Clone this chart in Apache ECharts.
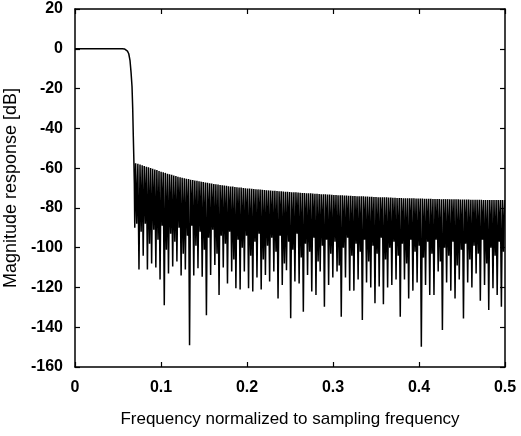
<!DOCTYPE html>
<html>
<head>
<meta charset="utf-8">
<script src="https://cdn.jsdelivr.net/npm/echarts@6/dist/echarts.min.js"></script>
<style>
html,body{margin:0;padding:0;background:#fff;}
#c{width:521px;height:436px;}
</style>
</head>
<body>
<div id="c"></div>
<script>
// Axis ticks
var xTicks = [0, 0.1, 0.2, 0.3, 0.4, 0.5];
var yTicks = [-160, -140, -120, -100, -80, -60, -40, -20, 0, 20];

// Passband and transition band: [frequency, dB]
var passband = [
  [0, 0], [0.02, 0], [0.04, 0], [0.055, 0], [0.0575, -0.1], [0.0595, -0.4],
  [0.061, -1.2], [0.0625, -2.5], [0.064, -6], [0.0652, -12], [0.0663, -19],
  [0.0671, -30], [0.0678, -44], [0.0684, -55], [0.069, -68], [0.0695, -90],
  [0.0705, -57.5], [0.0718, -88], [0.0731, -57.8]
];

// Stopband ripple: deep null, peak, shallow null, peak for each lobe
var stopband = [
  [0.0744,-111],[0.0756,-58.2],[0.0769,-92],[0.0781,-58.6],
  [0.0793,-104],[0.0805,-59.0],[0.0818,-88],[0.0830,-59.3],
  [0.0842,-111],[0.0854,-59.6],[0.0867,-98],[0.0879,-60.0],
  [0.0891,-108],[0.0903,-60.3],[0.0916,-91],[0.0928,-60.7],
  [0.0940,-110],[0.0952,-61.0],[0.0965,-96],[0.0977,-61.4],
  [0.0989,-116],[0.1001,-61.8],[0.1014,-89],[0.1026,-62.1],
  [0.1038,-129],[0.1050,-62.4],[0.1063,-101],[0.1075,-62.8],
  [0.1087,-113],[0.1099,-63.1],[0.1112,-93],[0.1124,-63.4],
  [0.1136,-109.5],[0.1148,-63.7],[0.1161,-97],[0.1173,-64.0],
  [0.1185,-107],[0.1197,-64.3],[0.1210,-90],[0.1222,-64.6],
  [0.1234,-114],[0.1246,-64.8],[0.1259,-103],[0.1271,-65.1],
  [0.1283,-111],[0.1295,-65.3],[0.1308,-94],[0.1320,-65.5],
  [0.1332,-149],[0.1344,-65.8],[0.1357,-89],[0.1369,-66.0],
  [0.1381,-114],[0.1393,-66.2],[0.1406,-99],[0.1418,-66.4],
  [0.1430,-110.4],[0.1442,-66.6],[0.1455,-92],[0.1467,-66.8],
  [0.1479,-114.6],[0.1491,-67.0],[0.1504,-101],[0.1516,-67.2],
  [0.1528,-134],[0.1540,-67.4],[0.1553,-95],[0.1565,-67.6],
  [0.1577,-113.7],[0.1589,-67.8],[0.1602,-91],[0.1614,-68.0],
  [0.1626,-108.7],[0.1638,-68.1],[0.1651,-103],[0.1663,-68.3],
  [0.1675,-123.8],[0.1687,-68.5],[0.1700,-94],[0.1712,-68.6],
  [0.1724,-110],[0.1736,-68.8],[0.1749,-98],[0.1761,-68.9],
  [0.1773,-118],[0.1785,-69.1],[0.1798,-92],[0.1810,-69.2],
  [0.1822,-112],[0.1834,-69.3],[0.1847,-106],[0.1859,-69.5],
  [0.1871,-120.4],[0.1883,-69.6],[0.1896,-96],[0.1908,-69.7],
  [0.1920,-121],[0.1932,-69.8],[0.1945,-100],[0.1957,-70.0],
  [0.1969,-112],[0.1981,-70.1],[0.1994,-94],[0.2006,-70.2],
  [0.2018,-120.4],[0.2030,-70.3],[0.2043,-104],[0.2055,-70.4],
  [0.2067,-122],[0.2079,-70.5],[0.2092,-97],[0.2104,-70.6],
  [0.2116,-115],[0.2128,-70.7],[0.2141,-93],[0.2153,-70.8],
  [0.2165,-121],[0.2177,-70.9],[0.2190,-106],[0.2202,-71.0],
  [0.2214,-113.7],[0.2226,-71.1],[0.2239,-99],[0.2251,-71.2],
  [0.2263,-117],[0.2275,-71.3],[0.2288,-95],[0.2300,-71.4],
  [0.2312,-112],[0.2324,-71.4],[0.2337,-102],[0.2349,-71.5],
  [0.2361,-125.5],[0.2373,-71.6],[0.2386,-94],[0.2398,-71.7],
  [0.2410,-118.8],[0.2422,-71.8],[0.2435,-108],[0.2447,-71.9],
  [0.2459,-111.4],[0.2471,-71.9],[0.2484,-97],[0.2496,-72.0],
  [0.2508,-135.5],[0.2520,-72.1],[0.2533,-101],[0.2545,-72.2],
  [0.2557,-117],[0.2569,-72.2],[0.2582,-93],[0.2594,-72.3],
  [0.2606,-118],[0.2618,-72.4],[0.2631,-105],[0.2643,-72.5],
  [0.2655,-132.2],[0.2667,-72.5],[0.2680,-98],[0.2692,-72.6],
  [0.2704,-113.8],[0.2716,-72.7],[0.2729,-102],[0.2741,-72.7],
  [0.2753,-122],[0.2765,-72.8],[0.2778,-95],[0.2790,-72.9],
  [0.2802,-123.8],[0.2814,-72.9],[0.2827,-107],[0.2839,-73.0],
  [0.2851,-112],[0.2863,-73.1],[0.2876,-99],[0.2888,-73.1],
  [0.2900,-129.7],[0.2912,-73.2],[0.2925,-96],[0.2937,-73.3],
  [0.2949,-118.8],[0.2961,-73.3],[0.2974,-103],[0.2986,-73.4],
  [0.2998,-115],[0.3010,-73.5],[0.3023,-97],[0.3035,-73.5],
  [0.3047,-112],[0.3059,-73.6],[0.3072,-109],[0.3084,-73.6],
  [0.3096,-134.7],[0.3108,-73.7],[0.3121,-100],[0.3133,-73.8],
  [0.3145,-115],[0.3157,-73.8],[0.3170,-95],[0.3182,-73.9],
  [0.3194,-121.6],[0.3206,-73.9],[0.3219,-104],[0.3231,-74.0],
  [0.3243,-121.6],[0.3255,-74.0],[0.3268,-98],[0.3280,-74.1],
  [0.3292,-116],[0.3304,-74.1],[0.3317,-102],[0.3329,-74.2],
  [0.3341,-136.4],[0.3353,-74.2],[0.3366,-96],[0.3378,-74.3],
  [0.3390,-117.5],[0.3402,-74.3],[0.3415,-107],[0.3427,-74.4],
  [0.3439,-120],[0.3451,-74.4],[0.3464,-99],[0.3476,-74.5],
  [0.3488,-128],[0.3500,-74.5],[0.3513,-103],[0.3525,-74.6],
  [0.3537,-119.5],[0.3549,-74.6],[0.3562,-95],[0.3574,-74.6],
  [0.3586,-128.5],[0.3598,-74.7],[0.3611,-106],[0.3623,-74.7],
  [0.3635,-120],[0.3647,-74.8],[0.3660,-100],[0.3672,-74.8],
  [0.3684,-118.8],[0.3696,-74.9],[0.3709,-97],[0.3721,-74.9],
  [0.3733,-116],[0.3745,-75.0],[0.3758,-104],[0.3770,-75.0],
  [0.3782,-134.7],[0.3794,-75.0],[0.3807,-98],[0.3819,-75.1],
  [0.3831,-116],[0.3843,-75.1],[0.3856,-108],[0.3868,-75.1],
  [0.3880,-125.5],[0.3892,-75.2],[0.3905,-96],[0.3917,-75.2],
  [0.3929,-121.6],[0.3941,-75.2],[0.3954,-102],[0.3966,-75.3],
  [0.3978,-117.5],[0.3990,-75.3],[0.4003,-99],[0.4015,-75.3],
  [0.4027,-149.8],[0.4039,-75.3],[0.4052,-105],[0.4064,-75.4],
  [0.4076,-118.8],[0.4088,-75.4],[0.4101,-97],[0.4113,-75.4],
  [0.4125,-123.8],[0.4137,-75.4],[0.4150,-103],[0.4162,-75.5],
  [0.4174,-123.8],[0.4186,-75.5],[0.4199,-96],[0.4211,-75.5],
  [0.4223,-112],[0.4235,-75.5],[0.4248,-107],[0.4260,-75.6],
  [0.4272,-141.4],[0.4284,-75.6],[0.4297,-100],[0.4309,-75.6],
  [0.4321,-117.5],[0.4333,-75.6],[0.4346,-104],[0.4358,-75.7],
  [0.4370,-121.6],[0.4382,-75.7],[0.4395,-97],[0.4407,-75.7],
  [0.4419,-125.5],[0.4431,-75.7],[0.4444,-109],[0.4456,-75.7],
  [0.4468,-116],[0.4480,-75.8],[0.4493,-101],[0.4505,-75.8],
  [0.4517,-135.6],[0.4529,-75.8],[0.4542,-98],[0.4554,-75.8],
  [0.4566,-117.5],[0.4578,-75.8],[0.4591,-106],[0.4603,-75.9],
  [0.4615,-120],[0.4627,-75.9],[0.4640,-99],[0.4652,-75.9],
  [0.4664,-113],[0.4676,-75.9],[0.4689,-103],[0.4701,-75.9],
  [0.4713,-126.7],[0.4725,-75.9],[0.4738,-96],[0.4750,-76.0],
  [0.4762,-118.8],[0.4774,-76.0],[0.4787,-108],[0.4799,-76.0],
  [0.4811,-131.3],[0.4823,-76.0],[0.4836,-100],[0.4848,-76.0],
  [0.4860,-120.4],[0.4872,-76.0],[0.4885,-104],[0.4897,-76.0],
  [0.4909,-123.8],[0.4921,-76.0],[0.4934,-97],[0.4946,-76.0],
  [0.4958,-129.7],[0.4970,-76.0],[0.4983,-102],[0.4995,-76.0]
];

var xTitle = 'Frequency normalized to sampling frequency';
var yTitle = 'Magnitude response [dB]';

var chart = echarts.init(document.getElementById('c'), null, {renderer: 'canvas'});
var fontFam = '"Liberation Sans", Arial, sans-serif';
var lineStyleAx = {color: '#000', width: 1.5};
var tickStyle = {show: true, inside: true, length: 5, lineStyle: {color: '#000', width: 1.2}};

function xAx(pos, showLabels) {
  return {
    type: 'value', position: pos, min: xTicks[0], max: xTicks[xTicks.length - 1], interval: 0.1,
    axisLine: {show: true, onZero: false, lineStyle: lineStyleAx},
    axisTick: tickStyle, splitLine: {show: false},
    axisLabel: {show: showLabels, color: '#000', fontFamily: fontFam, fontWeight: 'bold', fontSize: 16, margin: 13,
      formatter: function (v) { return v === 0 ? '0' : v.toFixed(1); }},
    name: showLabels ? xTitle : '', nameLocation: 'middle', nameGap: 44,
    nameTextStyle: {color: '#000', fontFamily: fontFam, fontSize: 17}
  };
}
function yAx(pos, showLabels) {
  return {
    type: 'value', position: pos, min: yTicks[0], max: yTicks[yTicks.length - 1], interval: 20,
    axisLine: {show: true, onZero: false, lineStyle: lineStyleAx},
    axisTick: tickStyle, splitLine: {show: false},
    axisLabel: {show: showLabels, color: '#000', fontFamily: fontFam, fontWeight: 'bold', fontSize: 16, margin: 12},
    name: showLabels ? yTitle : '', nameLocation: 'middle', nameGap: 54, nameRotate: 90,
    nameTextStyle: {color: '#000', fontFamily: fontFam, fontSize: 18}
  };
}

chart.setOption({
  animation: false,
  backgroundColor: '#fff',
  grid: {left: 75, right: 16, top: 9, bottom: 69, containLabel: false, outerBoundsMode: 'none'},
  xAxis: [xAx('bottom', true), xAx('top', false)],
  yAxis: [yAx('left', true), yAx('right', false)],
  series: [{
    type: 'line',
    data: passband.concat(stopband),
    symbol: 'none',
    lineStyle: {color: '#000', width: 1.5},
    clip: true
  }]
});
</script>
</body>
</html>
